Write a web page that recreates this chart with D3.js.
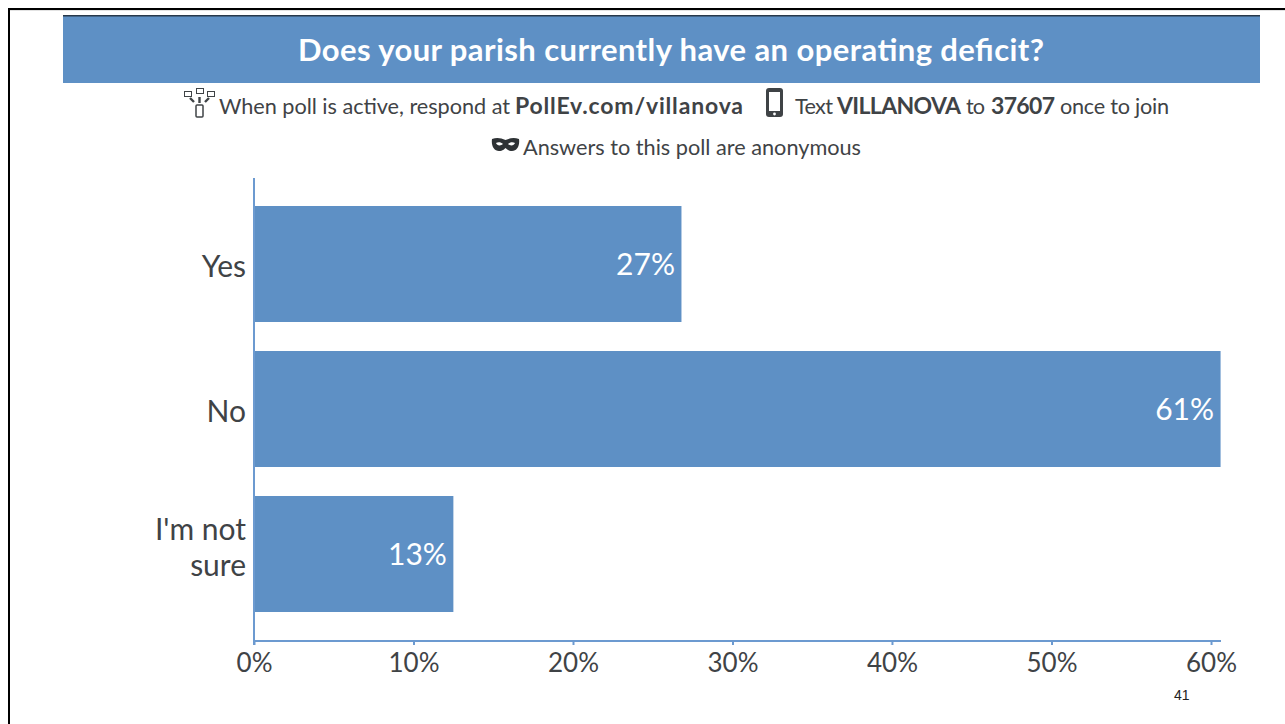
<!DOCTYPE html>
<html><head><meta charset="utf-8">
<script src="https://cdnjs.cloudflare.com/ajax/libs/d3/7.8.5/d3.min.js"></script>
<style>html,body{margin:0;padding:0;background:#fff;overflow:hidden}svg{display:block}text{font-family:Lato,"Open Sans",sans-serif}</style>
</head><body><svg id="c" width="1285" height="724"></svg>
<script>
const categories = ["Yes", "No", "I'm not sure"];
const values = [26.8, 60.6, 12.5];
const valueLabels = ["27%", "61%", "13%"];
const tickValues = [0, 10, 20, 30, 40, 50, 60];
const titleText = "Does your parish currently have an operating deficit?";
const blue = "#5e90c5", axisBlue = "#6c9ad0", ink = "#3f4346";

const svg = d3.select("#c");
const x = d3.scaleLinear().domain([0, 60]).range([254, 1211]);
const y = d3.scaleBand().domain(categories).range([206, 612]).paddingInner(0.2).paddingOuter(0);

// slide frame
svg.append("path").attr("d", "M9.5,724V10.500H1285").attr("fill", "none").attr("stroke", "#e2e2e2").attr("stroke-width", 1);
svg.append("path").attr("d", "M9,724V9H1285").attr("fill", "none").attr("stroke", "#000").attr("stroke-width", 2);
svg.append("rect").attr("x", 63).attr("y", 16).attr("width", 1197).attr("height", 67).attr("fill", blue);
svg.append("rect").attr("x", 63).attr("y", 15).attr("width", 1197).attr("height", 1.5).attr("fill", "#27384a");
svg.append("text").attr("x", 298).attr("y", 61).attr("textLength", 746).attr("lengthAdjust", "spacing").attr("fill", "#fff")
  .attr("font-size", 31).attr("font-weight", 700).text(titleText);

// instruction line: each run is fitted to the span it occupies in the reference
[["When poll is active, respond at", 0, 219, 291],
 ["PollEv.com/villanova", 1, 515, 228],
 ["Text", 0, 795, 38],
 ["VILLANOVA", 1, 837, 124],
 ["to", 0, 966, 19],
 ["37607", 1, 991, 64],
 ["once to join", 0, 1060, 109]].forEach(r => {
  svg.append("text").attr("x", r[2]).attr("y", 114).attr("textLength", r[3]).attr("lengthAdjust", "spacing")
    .attr("font-size", r[1] ? 23 : 21.7).attr("font-weight", r[1] ? 700 : 400).attr("fill", ink).text(r[0]);
});
svg.append("text").attr("x", 523).attr("y", 155).attr("textLength", 338).attr("lengthAdjust", "spacing")
  .attr("font-size", 21.7).attr("fill", ink).text("Answers to this poll are anonymous");

// icons
const ic = svg.append("g").attr("fill", "none").attr("stroke", ink);
[[184.5, 91.5], [196.5, 88.5], [207.5, 91.5]].forEach(p => ic.append("rect").attr("x", p[0]).attr("y", p[1]).attr("width", 7).attr("height", 5).attr("stroke-width", 1));
ic.append("rect").attr("x", 196).attr("y", 105).attr("width", 7).attr("height", 12).attr("rx", 1).attr("stroke-width", 1.5);
ic.append("path").attr("d", "M199.5,103V97M190,98L194,102M209,98L205,102").attr("stroke-width", 2.4);
svg.append("rect").attr("x", 766).attr("y", 88).attr("width", 17).attr("height", 29).attr("rx", 3).attr("fill", ink);
svg.append("rect").attr("x", 769).attr("y", 92).attr("width", 11).attr("height", 19).attr("fill", "#fff");
svg.append("circle").attr("cx", 774.5).attr("cy", 114).attr("r", 1.4).attr("fill", "#fff");
svg.append("path").attr("fill-rule", "evenodd").attr("fill", "#2e3235")
  .attr("d", "M492,139C497,137 501,138 505.500,140C510,138 514,137 519,139C520,146 517,151 512,151C508,151 507,149 505.500,148C504,149 503,151 499,151C494,151 491,146 492,139ZM496,143C497,146 501,146 503,144C501,142 498,142 496,143ZM508,144C510,146 514,146 515,143C513,142 510,142 508,144Z");

// bars
svg.append("g").selectAll("rect").data(values).join("rect")
  .attr("x", x(0)).attr("y", (d, i) => y(categories[i]))
  .attr("width", d => x(d) - x(0)).attr("height", y.bandwidth()).attr("fill", blue);

// value labels
svg.append("g").selectAll("text").data(values).join("text")
  .attr("x", d => x(d) - 6.500).attr("y", (d, i) => y(categories[i]) + y.bandwidth() / 2 + 11)
  .attr("text-anchor", "end").attr("fill", "#fff").attr("font-size", 30).text((d, i) => valueLabels[i]);

// category labels
const catLines = { "Yes": ["Yes"], "No": ["No"], "I'm not sure": ["I'm not", "sure"] };
categories.forEach(c => {
  const ls = catLines[c], mid = y(c) + y.bandwidth() / 2;
  const base = ls.length > 1 ? mid + 4 : mid + 13;
  ls.forEach((l, i) => svg.append("text").attr("x", 246).attr("text-anchor", "end").attr("fill", ink).attr("font-size", 30)
    .attr("y", base + (i - (ls.length - 1) / 2) * 36).text(l));
});

// axes
svg.append("line").attr("x1", 254).attr("x2", 254).attr("y1", 178).attr("y2", 645).attr("stroke", axisBlue).attr("stroke-width", 2);
const xa = svg.append("g").attr("transform", "translate(0,641)")
  .call(d3.axisBottom(x).tickValues(tickValues).tickSize(4).tickPadding(9).tickFormat(d => d + "%"));
xa.select(".domain").attr("d", "M254,0H1221").attr("stroke", axisBlue).attr("stroke-width", 2);
xa.selectAll(".tick line").attr("stroke", axisBlue).attr("stroke-width", 2);
xa.selectAll(".tick text").attr("fill", ink).attr("font-size", 26).attr("font-family", "Lato");

// slide number
svg.append("text").attr("x", 1174).attr("y", 700).attr("font-size", 14).attr("fill", "#222").attr("style", "font-family:'Liberation Sans'").text("41");
</script></body></html>
